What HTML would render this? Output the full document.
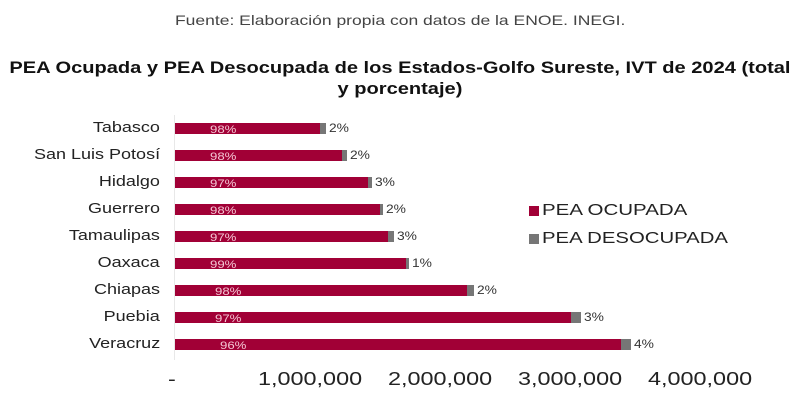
<!DOCTYPE html>
<html><head><meta charset="utf-8"><style>
body{margin:0;width:800px;height:404px;background:#fff;font-family:"Liberation Sans",sans-serif;overflow:hidden;position:relative}
.a{position:absolute;white-space:nowrap}
.cat{position:absolute;right:640px;font-size:15px;color:#222;line-height:16px;transform:scaleX(1.2);transform-origin:right center}
.r{position:absolute;left:175px;height:11px;background:#a10036}
.g{position:absolute;height:11px;background:#767676}
.p{position:absolute;font-size:11px;color:#f4c6d4;line-height:11px;transform:scaleX(1.2);transform-origin:left center}
.v{position:absolute;font-size:12px;color:#333;line-height:11px;transform:scaleX(1.15);transform-origin:left center}
.t{position:absolute;font-size:18px;color:#222;top:369px;line-height:20px;transform:scaleX(1.3);transform-origin:left center}
</style></head><body>
<div class="a" style="left:0;width:800px;text-align:center;top:12px;font-size:14px;color:#444"><span style="display:inline-block;transform:scaleX(1.25)">Fuente: Elaboración propia con datos de la ENOE. INEGI.</span></div>
<div class="a" style="left:0;width:800px;text-align:center;top:57px;font-size:17px;font-weight:bold;color:#111;line-height:21px"><div style="display:inline-block;transform:scaleX(1.18)">PEA Ocupada y PEA Desocupada de los Estados-Golfo Sureste, IVT de 2024 (total<br>y porcentaje)</div></div>
<div class="a" style="left:174px;top:115px;width:1px;height:245px;background:#e8e8e8"></div>
<div id="bars"></div>
<div class="a" style="left:529px;top:206px;width:10px;height:10px;background:#a10036"></div>
<div class="a" style="left:542px;top:202px;font-size:16px;color:#222;transform:scaleX(1.28);transform-origin:left center">PEA OCUPADA</div>
<div class="a" style="left:529px;top:234px;width:10px;height:10px;background:#767676"></div>
<div class="a" style="left:542px;top:230px;font-size:16px;color:#222;transform:scaleX(1.27);transform-origin:left center">PEA DESOCUPADA</div>
<div class="t" style="left:168px">-</div>
<div class="t" style="left:258px">1,000,000</div>
<div class="t" style="left:388px">2,000,000</div>
<div class="t" style="left:518px">3,000,000</div>
<div class="t" style="left:648px">4,000,000</div>
<script>
var d=[["Tabasco",320,326,"98%","2%"],["San Luis Potosí",342,347,"98%","2%"],["Hidalgo",368,372,"97%","3%"],["Guerrero",380,383,"98%","2%"],["Tamaulipas",388,394,"97%","3%"],["Oaxaca",406,409,"99%","1%"],["Chiapas",467,474,"98%","2%"],["Puebia",571,581,"97%","3%"],["Veracruz",621,631,"96%","4%"]];
var h="";d.forEach(function(r,i){var y=128+i*27;
h+='<div class="cat" style="top:'+(y-8)+'px">'+r[0]+'</div>';
h+='<div class="r" style="top:'+(y-5)+'px;width:'+(r[1]-175)+'px"></div>';
h+='<div class="g" style="top:'+(y-5)+'px;left:'+r[1]+'px;width:'+(r[2]-r[1])+'px"></div>';
h+='<div class="p" style="top:'+(y-3)+'px;left:'+(210+(i>5?5:0)+(i==8?5:0))+'px">'+r[3]+'</div>';
h+='<div class="v" style="top:'+(y-5)+'px;left:'+(r[2]+3)+'px">'+r[4]+'</div>';});
document.getElementById("bars").innerHTML=h;
</script>
</body></html>
